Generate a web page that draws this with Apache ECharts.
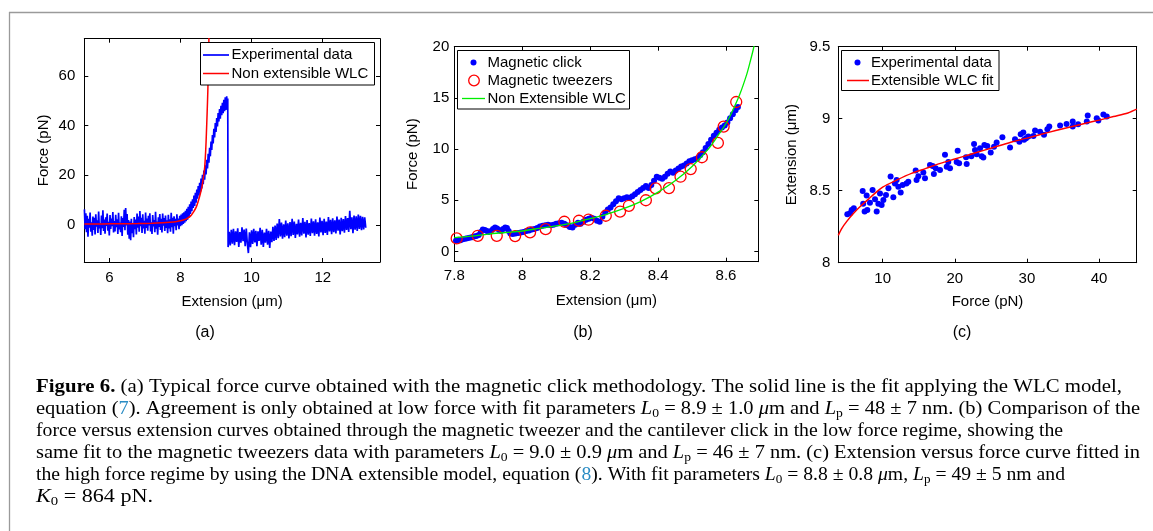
<!DOCTYPE html>
<html><head><meta charset="utf-8">
<script src="https://cdn.jsdelivr.net/npm/echarts@6/dist/echarts.min.js"></script>
<style>html,body{margin:0;padding:0;background:#fff}#c{width:1153px;height:531px}</style>
</head><body><div id="c"></div>
<script>
// ---------- data ----------
// (a) force curve: [extension µm, force pN]
const aExperimental = [
[5.30,6.2],[5.32,-1.8],[5.34,4.6],[5.36,-3.0],[5.38,3.6],[5.40,-4.8],[5.42,2.4],[5.44,-1.2],[5.46,4.9],[5.48,-2.8],
[5.50,1.0],[5.52,-4.4],[5.54,3.3],[5.56,-2.1],[5.58,2.8],[5.60,-3.9],[5.62,4.2],[5.64,-0.8],[5.66,1.8],[5.68,-3.3],
[5.70,5.3],[5.72,-1.5],[5.74,0.6],[5.76,-4.1],[5.78,3.7],[5.80,-1.4],[5.82,5.8],[5.84,-2.5],[5.86,2.1],[5.88,-3.6],
[5.90,3.0],[5.92,-0.5],[5.94,4.5],[5.96,-2.4],[5.98,1.2],[6.00,-4.3],[6.02,3.9],[6.04,-1.7],[6.06,2.5],[6.08,-0.6],
[6.10,5.1],[6.12,-3.1],[6.14,1.5],[6.16,-2.7],[6.18,4.0],[6.20,-1.0],[6.22,2.2],[6.24,-3.7],[6.26,4.8],[6.28,-1.9],
[6.30,0.9],[6.32,-3.0],[6.34,3.4],[6.36,-4.5],[6.38,2.7],[6.40,-0.9],[6.42,6.0],[6.44,-2.2],[6.46,6.8],[6.48,-0.3],
[6.50,4.3],[6.52,-4.0],[6.54,1.9],[6.56,-5.6],[6.58,1.3],[6.60,-6.2],[6.62,2.4],[6.64,-3.4],[6.66,0.7],[6.68,-5.0],
[6.70,3.1],[6.72,-1.8],[6.74,2.1],[6.76,-3.9],[6.78,4.5],[6.80,-1.2],[6.82,3.3],[6.84,-2.8],[6.86,5.5],[6.88,-0.6],
[6.90,2.8],[6.92,-3.3],[6.94,4.2],[6.96,-1.5],[6.98,1.6],[7.00,-3.6],[7.02,4.9],[7.04,-1.3],[7.06,2.5],[7.08,-2.4],
[7.10,3.6],[7.12,-0.3],[7.14,4.6],[7.16,-2.7],[7.18,1.0],[7.20,-3.7],[7.22,3.9],[7.24,-0.7],[7.26,1.9],[7.28,-3.0],
[7.30,5.2],[7.32,-1.6],[7.34,1.3],[7.36,-4.0],[7.38,3.0],[7.40,-0.9],[7.42,4.3],[7.44,-2.1],[7.46,2.4],[7.48,-3.1],
[7.50,4.5],[7.52,-0.4],[7.54,2.7],[7.56,-2.5],[7.58,3.7],[7.60,-1.3],[7.62,1.8],[7.64,-3.4],[7.66,4.0],[7.68,-1.5],
[7.70,2.2],[7.72,-2.8],[7.74,4.8],[7.76,-1.0],[7.78,2.8],[7.80,-3.6],[7.82,3.4],[7.84,-0.6],[7.86,2.4],[7.88,-2.2],
[7.90,4.2],[7.92,-0.3],[7.94,2.5],[7.96,-1.8],[7.98,3.6],
[8.00,-0.6],[8.02,4.1],[8.04,-0.2],[8.06,4.6],[8.08,0.3],[8.10,5.0],[8.12,0.8],[8.14,5.6],[8.16,1.4],[8.18,6.4],
[8.20,2.0],[8.22,7.2],[8.24,3.0],[8.26,8.3],[8.28,4.4],[8.30,9.4],[8.32,5.5],[8.34,10.3],[8.36,6.8],[8.38,11.8],
[8.40,7.6],[8.42,12.9],[8.44,8.9],[8.46,14.2],[8.48,10.5],[8.50,15.6],[8.52,11.8],[8.54,16.9],[8.56,13.2],[8.58,18.6],
[8.60,14.6],[8.62,20.1],[8.64,16.4],[8.66,21.9],[8.68,18.2],[8.70,24.0],[8.72,20.3],[8.74,26.2],[8.76,22.7],[8.78,28.6],
[8.80,25.0],[8.82,31.0],[8.84,27.6],[8.86,33.6],[8.88,30.2],[8.90,36.2],[8.92,32.8],[8.94,38.7],[8.96,35.2],[8.98,41.0],
[9.00,37.4],[9.02,43.0],[9.04,39.6],[9.06,45.0],[9.08,41.6],[9.10,46.6],[9.12,42.8],[9.14,48.0],[9.16,44.2],[9.18,49.2],
[9.20,45.0],[9.22,50.4],[9.24,45.8],[9.26,51.4],[9.28,46.3],[9.30,51.8],[9.32,46.6],[9.33,50.9],
[9.34,-9.0],[9.37,-2.8],[9.40,-8.3],[9.43,-2.0],[9.46,-7.6],[9.49,-1.6],[9.52,-8.2],[9.55,-2.6],[9.58,-6.9],[9.61,-1.4],
[9.64,-8.9],[9.67,-2.9],[9.70,-7.2],[9.73,-1.0],[9.76,-6.6],[9.79,-1.9],[9.82,-8.6],[9.85,-1.5],[9.88,-7.5],[9.91,-11.4],
[9.94,-3.0],[9.97,-9.0],[10.00,-2.2],[10.03,-7.7],[10.06,-1.6],[10.09,-7.1],[10.12,-2.4],[10.15,-8.6],[10.18,-2.6],[10.21,-6.5],
[10.24,-1.2],[10.27,-8.0],[10.30,-2.0],[10.33,-8.9],[10.36,-3.1],[10.39,-7.2],[10.42,-1.6],[10.45,-8.0],[10.48,-2.4],[10.51,-9.3],
[10.54,-2.7],[10.57,-7.0],[10.60,-0.8],[10.63,-6.5],[10.66,-0.3],[10.69,-6.1],[10.72,0.5],[10.75,-5.4],[10.78,2.3],[10.81,-4.7],
[10.84,0.9],[10.87,-5.6],[10.90,0.2],[10.93,-5.0],[10.96,1.7],[10.99,-4.4],[11.02,0.6],[11.05,-5.5],[11.08,1.1],[11.11,-4.6],
[11.14,2.4],[11.17,-4.1],[11.20,1.3],[11.23,-5.3],[11.26,0.4],[11.29,-3.9],[11.32,2.1],[11.35,-4.8],[11.38,0.8],[11.41,-4.3],
[11.44,2.7],[11.47,-3.6],[11.50,1.2],[11.53,-5.1],[11.56,1.9],[11.59,-4.0],[11.62,0.7],[11.65,-4.5],[11.68,2.5],[11.71,-3.4],
[11.74,1.4],[11.77,-4.4],[11.80,2.2],[11.83,-3.7],[11.86,1.0],[11.89,-4.7],[11.92,2.9],[11.95,-3.1],[11.98,1.6],[12.01,-4.2],
[12.04,2.4],[12.07,-3.3],[12.10,1.3],[12.13,-4.1],[12.16,3.1],[12.19,-2.7],[12.22,2.0],[12.25,-3.8],[12.28,2.6],[12.31,-3.0],
[12.34,1.8],[12.37,-3.5],[12.40,3.3],[12.43,-2.4],[12.46,2.1],[12.49,-3.9],[12.52,2.8],[12.55,-2.6],[12.58,2.3],[12.61,-3.2],
[12.64,3.5],[12.67,-2.1],[12.70,2.7],[12.73,-2.9],[12.76,5.6],[12.79,-1.8],[12.82,3.0],[12.85,-3.4],[12.88,3.7],[12.91,-2.0],
[12.94,3.4],[12.97,-2.5],[13.00,4.1],[13.03,-1.7],[13.06,3.6],[13.09,-2.2],[13.12,3.2],[13.15,-1.9],[13.18,3.0],[13.21,-1.2]
];
const aWLC = [[5.3,0.3],[5.8,0.35],[6.3,0.4],[6.8,0.5],[7.2,0.65],[7.5,0.85],[7.7,1.05],[7.9,1.35],[8.0,1.6],[8.1,2.0],
[8.2,2.7],[8.3,3.8],[8.37,5.2],[8.44,7.0],[8.5,9.5],[8.55,12.0],[8.6,15.0],[8.64,18.5],[8.68,23],[8.71,30],[8.73,37],
[8.75,45],[8.77,54],[8.785,63],[8.80,75],[8.805,80]];

// (b) low force regime
const bClick = [[7.805,1.05],[7.812,1.15],[7.818,1.1],[7.825,1.2],[7.832,1.25],[7.838,1.3],[7.845,1.35],[7.852,1.4],[7.858,1.45],
[7.865,1.5],[7.872,1.6],[7.878,1.9],[7.884,2.15],[7.890,2.1],[7.896,2.0],[7.902,1.9],[7.908,2.0],[7.914,2.2],[7.920,2.35],
[7.926,2.25],[7.932,2.1],[7.938,2.0],[7.944,2.2],[7.950,2.35],[7.955,2.3],[7.960,2.0],[7.965,1.75],[7.972,1.7],[7.980,1.75],
[7.988,1.8],[7.996,1.85],[8.004,1.9],[8.012,2.0],[8.020,2.05],[8.028,2.15],[8.036,2.2],[8.044,2.3],[8.052,2.45],[8.060,2.5],
[8.068,2.55],[8.076,2.6],[8.084,2.55],[8.092,2.6],[8.100,2.7],[8.108,2.75],[8.116,2.8],[8.124,2.7],[8.132,2.55],[8.140,2.4],
[8.148,2.35],[8.156,2.6],[8.164,2.8],[8.172,2.7],[8.180,2.9],[8.188,3.1],[8.196,3.2],[8.204,3.3],[8.212,3.2],[8.220,3.0],
[8.228,2.9],[8.236,3.4],[8.244,3.8],[8.252,4.1],[8.260,4.3],[8.268,4.6],[8.276,4.9],[8.284,5.2],[8.292,5.1],[8.300,5.2],
[8.308,5.3],[8.316,5.25],[8.324,5.4],[8.332,5.6],[8.340,5.8],[8.348,6.0],[8.356,6.2],[8.364,6.4],[8.372,6.2],[8.380,6.5],
[8.388,6.9],[8.396,7.3],[8.404,7.2],[8.412,7.1],[8.420,7.3],[8.428,7.6],[8.436,7.8],[8.444,7.7],[8.452,7.9],[8.460,8.1],
[8.468,8.3],[8.476,8.4],[8.484,8.6],[8.492,8.8],[8.500,8.9],[8.508,9.0],[8.516,9.1],[8.524,9.4],[8.532,9.7],[8.540,10.1],
[8.548,10.5],[8.556,10.9],[8.564,11.3],[8.572,11.6],[8.580,11.9],[8.588,12.1],[8.596,12.3],[8.604,12.6],[8.612,13.0],
[8.620,13.4],[8.628,13.8],[8.635,14.1]];
const bTweezers = [[7.807,1.27],[7.869,1.53],[7.925,1.53],[7.979,1.5],[8.023,1.86],[8.069,2.18],[8.124,2.9],[8.167,3.0],
[8.195,3.1],[8.246,3.49],[8.288,3.9],[8.314,4.46],[8.364,5.0],[8.393,6.16],[8.432,6.19],[8.466,7.3],[8.496,8.05],
[8.529,9.2],[8.576,10.6],[8.593,12.2],[8.630,14.6]];
const bWLC = [[7.8,1.35],[7.85,1.5],[7.9,1.7],[7.95,1.85],[8.0,2.0],[8.05,2.25],[8.1,2.5],[8.15,2.8],[8.2,3.2],[8.25,3.65],
[8.3,4.2],[8.35,4.9],[8.4,5.8],[8.45,6.9],[8.5,8.3],[8.55,10.1],[8.58,11.5],[8.6,12.5],[8.62,13.8],[8.64,15.3],
[8.66,17.2],[8.67,18.4],[8.68,19.7],[8.685,20.5]];

// (c) high force regime: [force pN, extension µm]
const cExperimental = [[5.1,8.336],[5.47,8.343],[5.7,8.366],[6.0,8.378],[7.23,8.498],[7.3,8.41],[7.5,8.355],[7.78,8.466],
[7.87,8.366],[8.24,8.417],[8.6,8.505],[8.94,8.44],[9.17,8.355],[9.4,8.41],[9.63,8.48],[9.86,8.40],[10.1,8.436],[10.46,8.47],
[10.8,8.517],[11.1,8.598],[11.48,8.454],[11.7,8.55],[11.94,8.575],[12.17,8.528],[12.5,8.487],[12.77,8.54],[13.3,8.55],
[13.56,8.563],[14.58,8.64],[14.7,8.575],[14.95,8.6],[15.64,8.626],[15.87,8.586],[16.56,8.679],[16.93,8.672],[17.1,8.616],
[17.35,8.656],[17.95,8.644],[18.64,8.749],[18.88,8.667],[19.1,8.70],[19.34,8.656],[20.26,8.70],[20.4,8.778],[20.6,8.69],
[21.56,8.732],[21.65,8.686],[22.3,8.74],[22.67,8.825],[22.8,8.783],[23.04,8.753],[23.5,8.795],[23.73,8.74],[23.96,8.73],
[24.1,8.818],[24.5,8.81],[24.98,8.765],[25.44,8.806],[25.8,8.834],[26.6,8.871],[27.66,8.8],[28.35,8.857],[28.95,8.84],
[29.14,8.892],[29.5,8.904],[29.6,8.853],[29.88,8.864],[30.2,8.876],[30.9,8.88],[31.13,8.918],[31.82,8.91],[32.37,8.888],
[32.84,8.927],[33.1,8.945],[34.6,8.952],[35.5,8.964],[36.35,8.98],[36.35,8.945],[37.1,8.962],[38.3,8.98],[38.43,9.022],
[39.68,9.003],[39.9,8.987],[40.6,9.03],[41.07,9.015]];
const cWLC = [[3.85,8.19],[4.3,8.235],[5,8.285],[6,8.345],[7,8.395],[8,8.44],[9,8.485],[10,8.525],[12,8.575],[14,8.62],
[16,8.655],[18,8.69],[20,8.72],[22,8.75],[24,8.78],[26,8.81],[28,8.84],[30,8.865],[32,8.892],[34,8.918],[36,8.943],
[38,8.967],[40,8.99],[42,9.015],[44,9.04],[45.22,9.066]];

// tick values
const aXTicks = [6, 8, 10, 12];
const aYTicks = [0, 20, 40, 60];
const bXTicks = [7.8, 8, 8.2, 8.4, 8.6];
const bYTicks = [0, 5, 10, 15, 20];
const cXTicks = [10, 20, 30, 40];
const cYTicks = [8, 8.5, 9, 9.5];

// names / texts
const aNames = ['Experimental data', 'Non extensible WLC'];
const bNames = ['Magnetic click', 'Magnetic tweezers', 'Non Extensible WLC'];
const cNames = ['Experimental data', 'Extensible WLC fit'];
const panelLetters = ['(a)', '(b)', '(c)'];
const captionLines = [
 '{b|Figure 6.} (a) Typical force curve obtained with the magnetic click methodology. The solid line is the fit applying the WLC model,',
 'equation ({lk|7}). Agreement is only obtained at low force with fit parameters {it|L}{sub|0} = 8.9 ± 1.0 {it|μ}m and {it|L}{sub|p} = 48 ± 7 nm. (b) Comparison of the',
 'force versus extension curves obtained through the magnetic tweezer and the cantilever click in the low force regime, showing the',
 'same fit to the magnetic tweezers data with parameters {it|L}{sub|0} = 9.0 ± 0.9 {it|μ}m and {it|L}{sub|p} = 46 ± 7 nm. (c) Extension versus force curve fitted in',
 'the high force regime by using the DNA extensible model, equation ({lk|8}). With fit parameters {it|L}{sub|0} = 8.8 ± 0.8 {it|μ}m, {it|L}{sub|p} = 49 ± 5 nm and',
 '{it|K}{sub|0} = 864 pN.'
];

// ---------- styling / layout ----------
const SANS = "'Liberation Sans', Arial, sans-serif";
const SERIF = "'Liberation Serif', 'Times New Roman', serif";
const BLUE = '#0000ff', RED = '#ff0000', GREEN = '#00ee00';
const captionLeft = 36, captionTop = 387, captionStep = 22;
const captionRight = [1122, 1140, 1063, 1140, 1065, 153];   // right end of each caption line (layout)

function axis(dim, main, g, min, max, ticks, margin, name, gap) {
  const o = {
    type: 'value', gridIndex: g, min: min, max: max,
    position: dim === 'x' ? (main ? 'bottom' : 'top') : (main ? 'left' : 'right'),
    splitLine: { show: false },
    axisLine: { show: true, onZero: false, lineStyle: { color: '#000', width: 1 } },
    axisTick: { show: true, inside: true, length: 4, customValues: ticks, lineStyle: { color: '#000', width: 1 } },
    axisLabel: main ? { show: true, customValues: ticks, margin: margin, color: '#000', fontSize: 15, fontFamily: SANS }
                    : { show: false }
  };
  if (main) {
    o.name = name; o.nameLocation = 'middle'; o.nameGap = gap;
    o.nameTextStyle = { color: '#000', fontSize: 15, fontFamily: SANS };
  }
  return o;
}

const xAxes = [
  axis('x', true, 0, 5.297, 13.61, aXTicks, 8, 'Extension (μm)', 32), axis('x', false, 0, 5.297, 13.61, aXTicks),
  axis('x', true, 1, 7.8, 8.695, bXTicks, 7, 'Extension (μm)', 32), axis('x', false, 1, 7.8, 8.695, bXTicks),
  axis('x', true, 2, 3.85, 45.22, cXTicks, 9, 'Force (pN)', 32), axis('x', false, 2, 3.85, 45.22, cXTicks)
];
const yAxes = [
  axis('y', true, 0, -15, 75, aYTicks, 9, 'Force (pN)', 33), axis('y', false, 0, -15, 75, aYTicks),
  axis('y', true, 1, -1, 20, bYTicks, 5, 'Force (pN)', 34), axis('y', false, 1, -1, 20, bYTicks),
  axis('y', true, 2, 8, 9.5, cYTicks, 8, 'Extension (μm)', 39), axis('y', false, 2, 8, 9.5, cYTicks)
];

const series = [
  { name: aNames[0], type: 'line', xAxisIndex: 0, yAxisIndex: 0, data: aExperimental, symbol: 'none',
    lineStyle: { color: BLUE, width: 1.7 }, itemStyle: { color: BLUE }, z: 2 },
  { name: aNames[1], type: 'line', xAxisIndex: 0, yAxisIndex: 0, data: aWLC, symbol: 'none', smooth: 0.3,
    lineStyle: { color: RED, width: 1.5 }, itemStyle: { color: RED }, z: 3 },
  { name: bNames[0], type: 'scatter', xAxisIndex: 2, yAxisIndex: 2, data: bClick, symbol: 'circle', symbolSize: 6,
    itemStyle: { color: BLUE, opacity: 1 }, z: 2 },
  { name: bNames[1], type: 'scatter', xAxisIndex: 2, yAxisIndex: 2, data: bTweezers, symbol: 'circle', symbolSize: 11,
    itemStyle: { color: 'rgba(0,0,0,0)', borderColor: RED, borderWidth: 1.3, opacity: 1 }, z: 3 },
  { name: bNames[2], type: 'line', xAxisIndex: 2, yAxisIndex: 2, data: bWLC, symbol: 'none', smooth: 0.3,
    lineStyle: { color: GREEN, width: 1.3 }, itemStyle: { color: GREEN }, z: 4 },
  { name: cNames[0] + ' ', type: 'scatter', xAxisIndex: 4, yAxisIndex: 4, data: cExperimental, symbol: 'circle', symbolSize: 6,
    itemStyle: { color: BLUE, opacity: 1 }, z: 2 },
  { name: cNames[1], type: 'line', xAxisIndex: 4, yAxisIndex: 4, data: cWLC, symbol: 'none', smooth: 0.3,
    lineStyle: { color: RED, width: 1.5 }, itemStyle: { color: RED }, z: 3 }
];

// legends drawn as graphic boxes
const G = [];
function legendBox(x, y, w, h) {
  G.push({ type: 'rect', z: 100, shape: { x: x, y: y, width: w, height: h },
           style: { fill: '#fff', stroke: '#000', lineWidth: 1 } });
}
function legendText(x, y, t) {
  G.push({ type: 'text', z: 101, x: x, y: y,
           style: { text: t, fontFamily: SANS, fontSize: 15, fill: '#000', align: 'left', verticalAlign: 'middle' } });
}
function legendLine(x1, x2, y, c, w) {
  G.push({ type: 'line', z: 101, shape: { x1: x1, y1: y, x2: x2, y2: y }, style: { stroke: c, lineWidth: w } });
}
function legendDot(cx, cy, r, fill, stroke) {
  G.push({ type: 'circle', z: 101, shape: { cx: cx, cy: cy, r: r },
           style: stroke ? { fill: 'none', stroke: stroke, lineWidth: 1.3 } : { fill: fill } });
}
// (a)
legendBox(200.5, 42.5, 174, 42.5);
legendLine(203, 229, 55, BLUE, 1.7); legendText(231.5, 55, aNames[0]);
legendLine(203, 229, 73.5, RED, 1.5); legendText(231.5, 73.5, aNames[1]);
// (b)
legendBox(457.5, 50.5, 172, 58.5);
legendDot(473.5, 62.5, 3, BLUE); legendText(487.5, 62.5, bNames[0]);
legendDot(474, 80.5, 5.3, null, RED); legendText(487.5, 80.5, bNames[1]);
legendLine(462, 485, 98.5, GREEN, 1.3); legendText(487.5, 98.5, bNames[2]);
// (c)
legendBox(841.5, 50.5, 157.5, 40);
legendDot(857.5, 62.5, 3, BLUE); legendText(871, 62.5, cNames[0]);
legendLine(847, 869, 80.5, RED, 1.5); legendText(871, 80.5, cNames[1]);

// panel letters
[[205, panelLetters[0]], [583, panelLetters[1]], [962, panelLetters[2]]].forEach(function (p) {
  G.push({ type: 'text', z: 100, x: p[0], y: 333,
           style: { text: p[1], fontFamily: SANS, fontSize: 16, fill: '#000', align: 'center', verticalAlign: 'middle' } });
});

// page frame
G.push({ type: 'line', z: 100, shape: { x1: 9, y1: 12.5, x2: 1153, y2: 12.5 }, style: { stroke: '#9a9a9a', lineWidth: 1.3 } });
G.push({ type: 'line', z: 100, shape: { x1: 9.5, y1: 12, x2: 9.5, y2: 531 }, style: { stroke: '#9a9a9a', lineWidth: 1.3 } });

// caption
const CF = 19.5, SF = 13;
const rich = {
  b:   { fontFamily: SERIF, fontSize: CF, fontWeight: 'bold', fill: '#000', lineHeight: 22 },
  it:  { fontFamily: SERIF, fontSize: CF, fontStyle: 'italic', fill: '#000', lineHeight: 22 },
  sub: { fontFamily: SERIF, fontSize: SF, fill: '#000', lineHeight: 12, verticalAlign: 'bottom' },
  lk:  { fontFamily: SERIF, fontSize: CF, fill: '#2a8cc4', lineHeight: 22 }
};
const mctx = document.createElement('canvas').getContext('2d');
const fontFor = {
  '': CF + 'px ' + SERIF, b: 'bold ' + CF + 'px ' + SERIF, it: 'italic ' + CF + 'px ' + SERIF,
  sub: SF + 'px ' + SERIF, lk: CF + 'px ' + SERIF
};
function tw(s, f) { mctx.font = fontFor[f]; return mctx.measureText(s).width; }
function richWidth(str) {
  const re = /\{(\w+)\|([^}]*)\}/g; let w = 0, last = 0, m;
  while ((m = re.exec(str))) { w += tw(str.slice(last, m.index), ''); w += tw(m[2], m[1]); last = re.lastIndex; }
  return w + tw(str.slice(last), '');
}
captionLines.forEach(function (t, i) {
  const w = richWidth(t);
  const sx = w > 0 ? (captionRight[i] - captionLeft) / w : 1;
  G.push({ type: 'text', z: 100, x: captionLeft, y: captionTop + i * captionStep, scaleX: sx,
           style: { text: t, fontFamily: SERIF, fontSize: CF, fill: '#000', lineHeight: 22,
                    align: 'left', verticalAlign: 'middle', rich: rich } });
});

const option = {
  animation: false,
  backgroundColor: '#fff',
  grid: [
    { left: 84.3, top: 38.7, width: 295.7, height: 223.3, show: false },
    { left: 454.3, top: 46.7, width: 304, height: 215, show: false },
    { left: 838.3, top: 46.7, width: 298.4, height: 216, show: false }
  ],
  xAxis: xAxes,
  yAxis: yAxes,
  series: series,
  graphic: G
};
const chart = echarts.init(document.getElementById('c'), null, { renderer: 'canvas' });
chart.setOption(option);
</script>
</body></html>
